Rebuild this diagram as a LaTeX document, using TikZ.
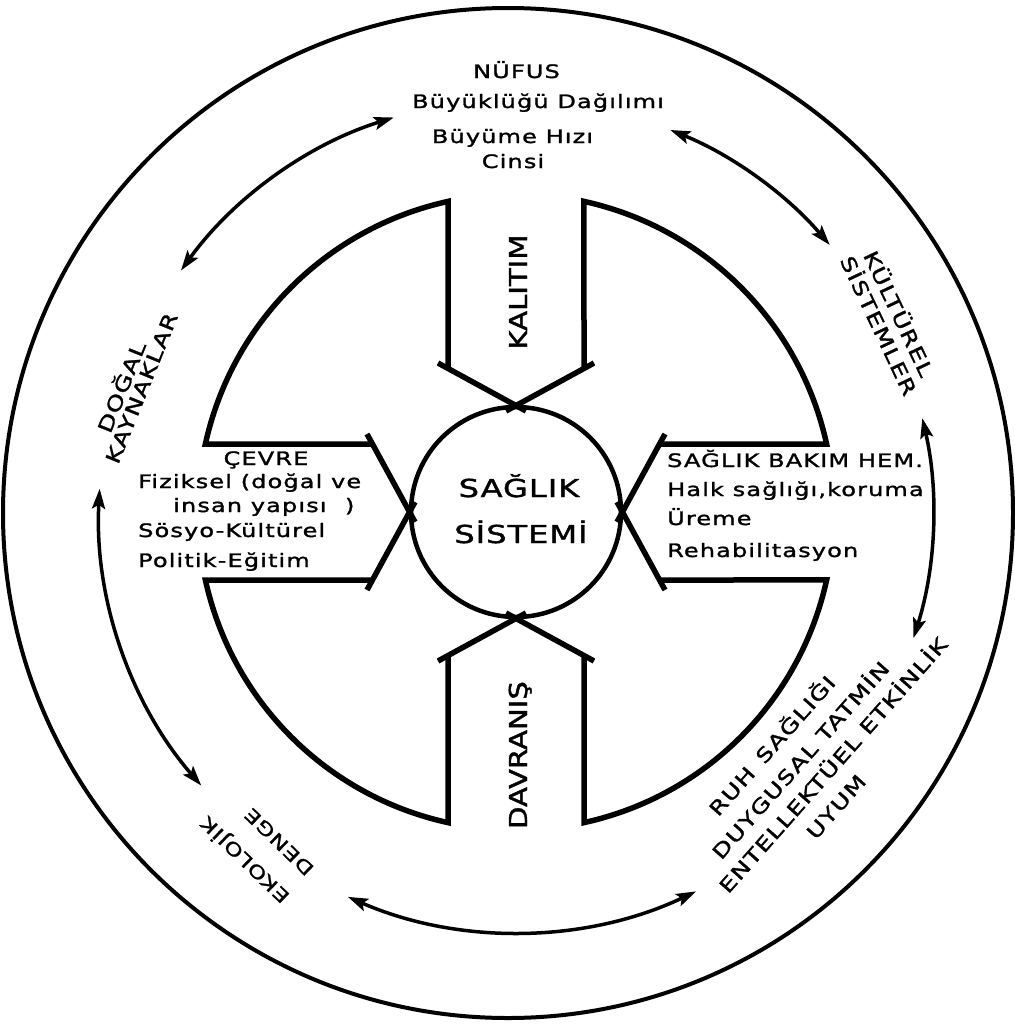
\documentclass[tikz,border=0pt]{standalone}
\usepackage{fontspec}
\setmainfont[FakeStretch=1.3,LetterSpace=6,FakeBold=1.5]{DejaVu Sans}
\newfontfamily\cfont[FakeStretch=1.3,LetterSpace=4,FakeBold=1.5]{DejaVu Sans}
\newfontfamily\vfont[FakeStretch=1.18,FakeBold=1.5]{DejaVu Sans}
\usetikzlibrary{arrows.meta}
\begin{document}
\begin{tikzpicture}[x=1pt,y=1pt,
  outerring/.style={line width=4pt},
  ringline/.style={line width=5.5pt, line join=miter},
  dblarrow/.style={line width=3.5pt,
    {Stealth[length=20pt,width=13pt,inset=4pt]}-{Stealth[length=20pt,width=13pt,inset=4pt]}},
  lst/.style={font=\fontsize{18.5}{22}\selectfont, inner sep=0pt},
  lbl/.style={font=\fontsize{19.7}{22}\selectfont, inner sep=0pt},
  lble/.style={font=\fontsize{18}{22}\selectfont, inner sep=0pt},
  lblb/.style={font=\fontsize{19.5}{22}\selectfont, inner sep=0pt},
  ctxt/.style={font=\cfont\fontsize{24.7}{28}\selectfont, inner sep=0pt},
  vtxt/.style={font=\vfont\fontsize{24.7}{28}\selectfont, inner sep=0pt}]
\fill[white] (0,0) rectangle (1015,-1026);
\useasboundingbox (0,0) rectangle (1015,-1026);
% outer circle
\draw[outerring] (508,-513) circle[radius=505];
\begin{scope}[shift={(516,-512)}]
  % inner circle
  \node[circle, draw, line width=4.5pt, minimum size=210pt, inner sep=0pt] (hs) at (0,0) {};
  % four quadrant walls and arm tips
  \foreach \k in {0,1,2,3} {
    \begin{scope}[rotate=90*\k]
      \draw[ringline] (-68,143) -- (-68,310.6) arc[start angle=102.35,end angle=167.65,radius=318] -- (-143,68);
      \draw[ringline] (-78,149) -- (10,101);
      \draw[ringline] (78,149) -- (-10,101);
    \end{scope}
  }
  % double arrows on the outer track
  \coordinate (a1s) at (144.2:413);
  \draw[dblarrow] (a1s) arc[start angle=144.2,end angle=107.2,radius=413];
  \coordinate (a2s) at (68:412);
  \draw[dblarrow] (a2s) arc[start angle=68,end angle=40.4,radius=412];
  \coordinate (a3s) at (13:417);
  \draw[dblarrow] (a3s) arc[start angle=13,end angle=-17.6,radius=417];
  \coordinate (a4s) at (-64.6:420);
  \draw[dblarrow] (a4s) arc[start angle=-64.6,end angle=-113.6,radius=420];
  \coordinate (a5s) at (176.8:417);
  \draw[dblarrow] (a5s) arc[start angle=176.8,end angle=221,radius=417];
\end{scope}
% centre text
\node[ctxt, anchor=base] (s1) at (519,-497) {SAĞLIK};
\node[ctxt, anchor=base] (s2) at (521,-543) {SİSTEMİ};
% arm labels
\node[vtxt, rotate=90, anchor=base] (kal) at (527,-292) {KALITIM};
\node[vtxt, rotate=90, anchor=base] (dav) at (527,-755) {DAVRANIŞ};
% NUFUS
\node[lst, anchor=base] (n1) at (516.5,-78) {NÜFUS};
\node[lst, anchor=base] (n2) at (538,-108) {Büyüklüğü Dağılımı};
\node[lst, anchor=base] (n3) at (512.5,-143) {Büyüme Hızı};
\node[lst, anchor=base] (n4) at (513,-168) {Cinsi};
% CEVRE
\node[lst, anchor=base] (c1) at (266,-465) {ÇEVRE};
\node[lst, anchor=base west] (c2) at (138,-488) {Fiziksel (doğal ve};
\node[lst, anchor=base west] (c3) at (173,-512) {insan yapısı\quad)};
\node[lst, anchor=base west] (c4) at (138,-537) {Sösyo-Kültürel};
\node[lst, anchor=base west] (c5) at (138,-567) {Politik-Eğitim};
% SAGLIK BAKIM
\node[lst, anchor=base west] (h1) at (667,-467) {SAĞLIK BAKIM HEM.};
\node[lst, anchor=base west] (h2) at (667,-496) {Halk sağlığı,koruma};
\node[lst, anchor=base west] (h3) at (667,-525) {Üreme};
\node[lst, anchor=base west] (h4) at (667,-557) {Rehabilitasyon};
% rotated outer labels
\node[lbl, rotate=68] (d1) at (120,-386.5) {DOĞAL};
\node[lbl, rotate=68] (d2) at (141.5,-388) {KAYNAKLAR};
\node[lbl, rotate=-64.7] (k1) at (900,-313) {KÜLTÜREL};
\node[lbl, rotate=-64.7] (k2) at (880,-325) {SİSTEMLER};
\node[lble, rotate=136] (e1) at (245,-860) {EKOLOJİK};
\node[lble, rotate=136] (e2) at (279,-842) {DENGE};
\node[lblb, rotate=48.5, anchor=base] (r1) at (777.5,-750.5) {RUH\, SAĞLIĞI};
\node[lblb, rotate=48.5, anchor=base] (r2) at (806,-765) {DUYGUSAL TATMİN};
\node[lblb, rotate=48.5, anchor=base] (r3) at (838.5,-770) {ENTELLEKTÜEL ETKİNLİK};
\node[lblb, rotate=48.5, anchor=base] (r4) at (841.5,-811.5) {UYUM};
\end{tikzpicture}
\end{document}
